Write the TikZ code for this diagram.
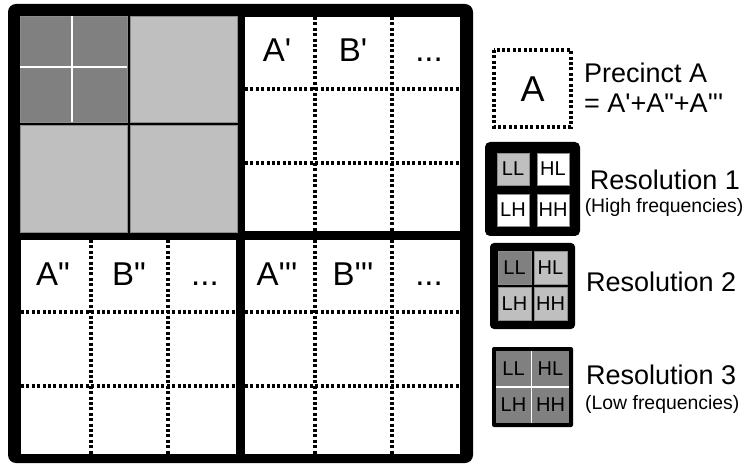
\documentclass[tikz,border=0pt]{standalone}
\usepackage{fontspec}
\setmainfont{Liberation Sans}
\usetikzlibrary{positioning}
\definecolor{cdark}{gray}{0.5}
\definecolor{clight}{gray}{0.75}
\newcommand\sq{\textquotesingle}
\tikzset{
  every picture/.style={x=1pt, y=-1pt},
  gcell/.style={fill=#1, draw=black!45, line width=0.5pt},
  dotline/.style={line width=3.2pt, dash pattern=on 3pt off 2.4pt},
  gridlab/.style={font=\fontsize{33}{36}\selectfont, anchor=base, inner sep=0pt},
  band/.style={fill=#1, draw=black!45, line width=0.5pt, minimum size=32pt, inner sep=0pt,
    font=\fontsize{20}{22}\selectfont},
  band/.default=white,
  legend/.style={font=\fontsize{27}{30}\selectfont, anchor=base west, inner sep=0pt},
  note/.style={font=\fontsize{19.4}{22}\selectfont, anchor=base, inner sep=0pt},
}

\begin{document}
\begin{tikzpicture}
  \useasboundingbox (0,0) rectangle (747,465);
  % image with its three detail quadrants
  \fill[rounded corners=8pt] (8,4) rectangle (473,463);
  \fill[gcell=cdark] (20,16) rectangle (127,122);
  \fill[gcell=clight] (130,16) rectangle (237,122);
  \fill[gcell=clight] (20,125) rectangle (127,232);
  \fill[gcell=clight] (130,125) rectangle (237,232);
  \draw[white, line width=1.6pt] (72,16) -- (72,122) (20,67) -- (127,67);
  \foreach \qx/\qy/\p [count=\i] in {245/17/{\sq}, 21/240/{\textquotedbl}, 245/240/{\sq\sq\sq}} {
    \fill[white] (\qx,\qy) rectangle ++(215,214);
    \draw[dotline] (\qx+70,\qy) -- ++(0,214) (\qx+147,\qy) -- ++(0,214);
    \draw[dotline] (\qx,\qy+72) -- ++(215,0) (\qx,\qy+146) -- ++(215,0);
    \node[gridlab] (a\i) at (\qx+32,\qy+45) {A\p};
    \node[gridlab] (b\i) at (\qx+108,\qy+45) {B\p};
    \node[gridlab] (d\i) at (\qx+184,\qy+45) {...};
  }

  % legend
  \draw[dotline] (494,50) rectangle (571,127);
  \node[font=\fontsize{36}{40}\selectfont, inner sep=0pt] (prec) at (532.5,89) {A};
  \node[legend] (prect) at (584,83) {Precinct A};
  \node[legend] (preceq) at (584,113) {= A\sq+A\textquotedbl+A\sq\sq\sq};

  \fill[rounded corners=5pt] (485,142) rectangle (580,236);
  \node[band=clight] (r1ll) at (513,169) {LL};
  \node[band] (r1hl) at (553,169) {HL};
  \node[band] (r1lh) at (513,210) {LH};
  \node[band] (r1hh) at (553,210) {HH};
  \node[legend, anchor=base] (r1t) at (665,190) {Resolution 1};
  \node[note] (r1n) at (664,213) {(High frequencies)};

  \fill[rounded corners=4pt] (490,243) rectangle (575,329);
  \node[band=cdark, minimum size=33pt] (r2ll) at (514.5,268) {LL};
  \node[band=clight, minimum size=33pt] (r2hl) at (550.5,268) {HL};
  \node[band=clight, minimum size=33pt] (r2lh) at (514.5,303.5) {LH};
  \node[band=clight, minimum size=33pt] (r2hh) at (550.5,303.5) {HH};
  \node[legend] (r2t) at (586,291) {Resolution 2};

  \fill[rounded corners=2pt] (492,347) rectangle (573,427);
  \fill[cdark] (496,351) rectangle (569,423);
  \draw[white, line width=1.6pt] (531.5,351) -- (531.5,423) (496,387) -- (569,387);
  \node[band=cdark, draw=none, minimum size=34pt] (r3ll) at (513.5,369) {LL};
  \node[band=cdark, draw=none, minimum size=34pt] (r3hl) at (550.5,369) {HL};
  \node[band=cdark, draw=none, minimum size=34pt] (r3lh) at (513.5,405) {LH};
  \node[band=cdark, draw=none, minimum size=34pt] (r3hh) at (550.5,405) {HH};
  \node[legend] (r3t) at (586,384) {Resolution 3};
  \node[note, anchor=base west] (r3n) at (585,409) {(Low frequencies)};
\end{tikzpicture}
\end{document}
